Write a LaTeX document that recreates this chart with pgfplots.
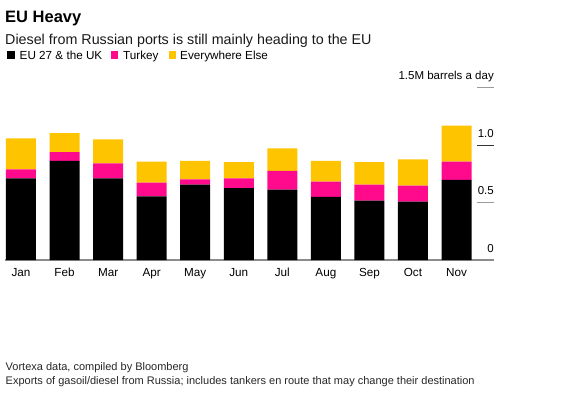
\documentclass[border=0pt]{standalone}
\usepackage{pgfplots}
\pgfplotsset{compat=1.18}
\usepackage{fontspec}
\setmainfont{Liberation Sans}
\definecolor{bbpink}{HTML}{FF0A8C}
\definecolor{bbyellow}{HTML}{FFC400}
\definecolor{gridgray}{HTML}{9A9A9A}
\definecolor{basegray}{HTML}{8C8C8C}
\pgfplotstableread{
x eu tr el
0 0.710 0.078 0.270
1 0.861 0.078 0.165
2 0.710 0.131 0.208
3 0.554 0.118 0.183
4 0.655 0.046 0.160
5 0.626 0.084 0.142
6 0.612 0.162 0.197
7 0.548 0.133 0.180
8 0.516 0.139 0.197
9 0.507 0.139 0.229
10 0.696 0.159 0.313
}\datatable
\begin{document}
\begin{tikzpicture}
\useasboundingbox (0,0) rectangle (578bp,-397bp);
% Title etc.
\node[anchor=base west, inner sep=0pt, font=\fontsize{16.5bp}{18bp}\selectfont\bfseries] at (5bp,-22.7bp) {EU Heavy};
\node[anchor=base west, inner sep=0pt, font=\fontsize{14.3bp}{16bp}\selectfont, text=black!90] at (5bp,-44bp) {Diesel from Russian ports is still mainly heading to the EU};
% legend
\fill[black] (7bp,-51bp) rectangle (14.5bp,-58.5bp);
\node[anchor=base west, inner sep=0pt, font=\fontsize{11.7bp}{13bp}\selectfont] at (19.5bp,-59bp) {EU 27 \& the UK};
\fill[bbpink] (110.5bp,-51bp) rectangle (118bp,-58.5bp);
\node[anchor=base west, inner sep=0pt, font=\fontsize{11.7bp}{13bp}\selectfont] at (123bp,-59bp) {Turkey};
\fill[bbyellow] (168.5bp,-51bp) rectangle (176bp,-58.5bp);
\node[anchor=base west, inner sep=0pt, font=\fontsize{11.7bp}{13bp}\selectfont] at (180bp,-59bp) {Everywhere Else};
% footer
\node[anchor=base west, inner sep=0pt, font=\fontsize{11bp}{13bp}\selectfont, text=black!85] at (5.5bp,-370.7bp) {Vortexa data, compiled by Bloomberg};
\node[anchor=base west, inner sep=0pt, font=\fontsize{11bp}{13bp}\selectfont, text=black!85] at (5.5bp,-384.3bp) {Exports of gasoil/diesel from Russia; includes tankers en route that may change their destination};
\begin{axis}[
  at={(5bp,-260bp)}, anchor=south west,
  scale only axis, width=489bp, height=172.5bp,
  xmin=-0.367, xmax=10.86, ymin=0, ymax=1.5,
  ybar stacked, bar width=30bp,
  axis line style={draw=none},
  xtick=data,
  xticklabels={Jan,Feb,Mar,Apr,May,Jun,Jul,Aug,Sep,Oct,Nov},
  xtick style={draw=none},
  xticklabel style={font=\fontsize{11.7bp}{13bp}\selectfont, anchor=base, inner sep=0pt, yshift=-16.7bp},
  ytick={0.5,1.5},
  yticklabels={0.5,1.5M barrels a day},
  extra y ticks={0,1},
  extra y tick labels={0,1.0},
  extra y tick style={ytick style={draw=black!80, line width=1bp}},
  ytick pos=right,
  tick align=inside,
  major tick length=17bp,
  ytick style={draw=gridgray, line width=1bp},
  yticklabel style={font=\fontsize{11.5bp}{13bp}\selectfont, anchor=base east, inner sep=0pt, xshift=0bp, yshift=8bp},
  /pgf/number format/assume math mode=true,
  clip=false,
]
\addplot[fill=black, draw=none] table[x=x, y=eu] {\datatable};
\addplot[fill=bbpink, draw=none] table[x=x, y=tr] {\datatable};
\addplot[fill=bbyellow, draw=none] table[x=x, y=el] {\datatable};
\draw[basegray, line width=1.3bp] (rel axis cs:0,0) -- (rel axis cs:1,0);
\end{axis}
\end{tikzpicture}
\end{document}
